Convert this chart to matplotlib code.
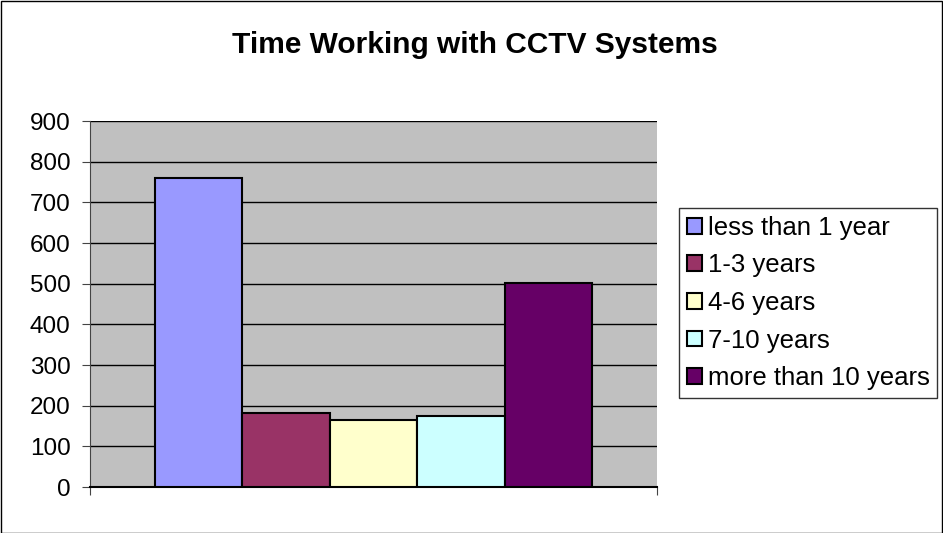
import matplotlib.pyplot as plt
from matplotlib.patches import Patch, Rectangle

plt.rcParams['font.family'] = ['Liberation Sans', 'DejaVu Sans']

labels = ['less than 1 year', '1-3 years', '4-6 years', '7-10 years', 'more than 10 years']
values = [761, 182, 164, 174, 501]
colors = ['#9999FF', '#993366', '#FFFFCC', '#CCFFFF', '#660066']
yticks = [0, 100, 200, 300, 400, 500, 600, 700, 800, 900]

W, H = 943, 533
fig = plt.figure(figsize=(W / 100, H / 100), dpi=100)
fig.patches.append(Rectangle((0.5 / W, 0.5 / H), 1 - 1.5 / W, 1 - 1.5 / H,
                             transform=fig.transFigure, fill=False,
                             edgecolor='black', linewidth=1))

ax = fig.add_axes([90 / W, (H - 487) / H, 567 / W, 366 / H])
ax.set_facecolor('#C0C0C0')

# single category, five bars side by side
bw = 1.0
xs = [i * bw for i in range(len(values))]
ax.bar(xs, values, width=bw, color=colors, edgecolor='black', linewidth=1.5,
       align='edge', zorder=3)
total = len(values) * bw
pad = (567 / 437 * total - total) / 2
ax.set_xlim(-pad, total + pad)
ax.set_ylim(0, 900)
ax.set_yticks(yticks)
ax.yaxis.grid(True, color='black', linewidth=1)
ax.set_axisbelow(True)
ax.set_xticks([-pad, total + pad])
ax.set_xticklabels(['', ''])
ax.tick_params(axis='x', direction='out', length=6, color='#444444')
ax.tick_params(axis='y', direction='out', length=6, labelsize=17.5, pad=8,
               color='#444444')
for s in ['top', 'right']:
    ax.spines[s].set_visible(False)
ax.spines['left'].set_color('#444444')
ax.spines['bottom'].set_linewidth(1.5)

fig.text(475 / W, 1 - 45 / H, 'Time Working with CCTV Systems', ha='center',
         va='center', fontsize=21.5, fontweight='bold')

handles = [Patch(facecolor=c, edgecolor='black', linewidth=1.5) for c in colors]
leg = fig.legend(handles, labels, loc='upper left',
                 bbox_to_anchor=(679 / W, 1 - 208 / H), fontsize=18.5,
                 frameon=True, fancybox=False, handlelength=0.58,
                 handleheight=0.58, handletextpad=0.23, labelspacing=0.53,
                 borderpad=0.3, borderaxespad=0)
leg.get_frame().set_edgecolor('black')
leg.get_frame().set_linewidth(1)

fig.savefig('out.png', dpi=100)
